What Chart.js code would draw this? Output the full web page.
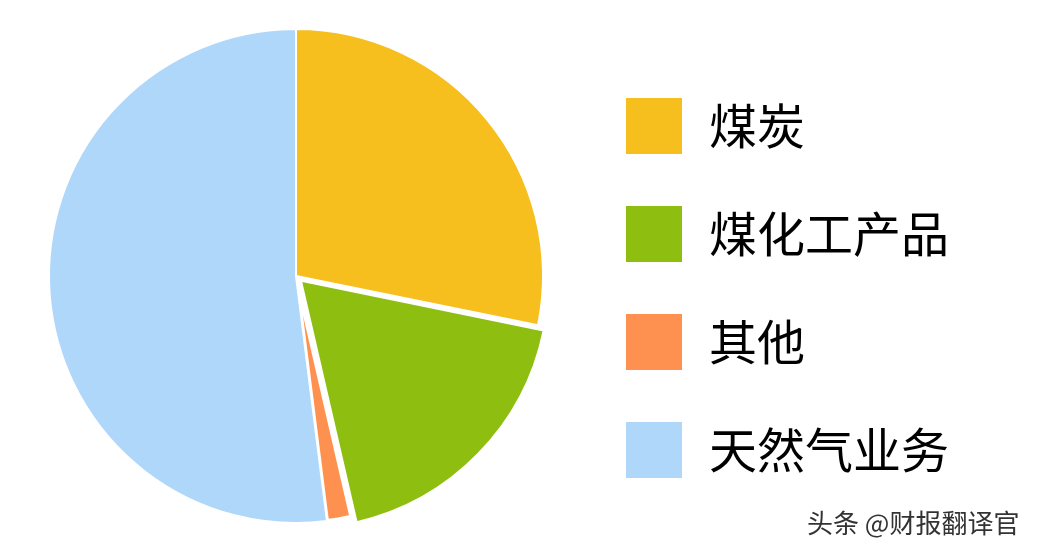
<!DOCTYPE html>
<html>
<head>
<meta charset="utf-8">
<script src="https://cdn.jsdelivr.net/npm/chart.js@4.4.1/dist/chart.umd.min.js"></script>
<style>
  html, body { margin: 0; padding: 0; background: #fff; }
  #wrap { width: 1040px; height: 552px; position: relative; }
</style>
</head>
<body>
<div id="wrap"><canvas id="pieChart"></canvas></div>
<script>
// Datos del gráfico (porcentajes)
const categorias = ['煤炭', '煤化工产品', '其他', '天然气业务'];
const valores = [28.2, 18.2, 1.6, 52.0];
const colores = ['#F6BF1E', '#8EBE0F', '#FF9150', '#AFD7FA'];
const desplazamientos = [0, 28, 0, 0]; // Chart.js v4 mueve offset/4 px
const bordes = [2, 2, 4, 2];
const marcaAgua = '头条 @财报翻译官';

// Ancho fijo de la leyenda para que el pastel quede a la izquierda
const anchoLeyenda = {
    id: 'anchoLeyenda',
    beforeInit(chart) {
        const fitOriginal = chart.legend.fit;
        chart.legend.fit = function () {
            fitOriginal.call(this);
            this.width = 463;
        };
    },
    afterLayout(chart) {
        // bajar un poco la columna de la leyenda
        chart.legend.top += 12;
        chart.legend.bottom += 12;
    }
};

// Texto de la marca de agua abajo a la derecha
const textoMarca = {
    id: 'textoMarca',
    afterDraw(chart) {
        const ctx = chart.ctx;
        ctx.save();
        ctx.font = '26px "Noto Sans CJK SC"';
        ctx.textBaseline = 'middle';
        ctx.textAlign = 'left';
        ctx.shadowColor = 'rgba(255,255,255,0.9)';
        ctx.shadowOffsetX = 1;
        ctx.shadowOffsetY = 1;
        ctx.shadowBlur = 1;
        ctx.fillStyle = '#333';
        ctx.fillText(marcaAgua, 807, 523);
        ctx.restore();
    }
};

const canvas = document.getElementById('pieChart');
new Chart(canvas, {
    type: 'pie',
    data: {
        labels: categorias,
        datasets: [{
            data: valores,
            backgroundColor: colores,
            borderColor: '#ffffff',
            borderWidth: bordes,
            offset: desplazamientos,
            radius: 247
        }]
    },
    options: {
        responsive: true,
        maintainAspectRatio: false,
        devicePixelRatio: 1,
        animation: false,
        layout: { padding: { left: 15, right: 0, top: 0, bottom: 0 } },
        plugins: {
            tooltip: { enabled: false },
            legend: {
                display: true,
                position: 'right',
                align: 'center',
                labels: {
                    boxWidth: 62,
                    boxHeight: 62,
                    padding: 46,
                    color: '#000',
                    font: { family: '"Noto Sans CJK SC"', size: 48 },
                    generateLabels(chart) {
                        // borde blanco ancho: el cuadro visible queda de 56 px
                        return Chart.overrides.pie.plugins.legend.labels.generateLabels(chart)
                            .map(item => Object.assign(item, { lineWidth: 6, strokeStyle: '#ffffff' }));
                    }
                }
            }
        }
    },
    plugins: [anchoLeyenda, textoMarca]
});
</script>
</body>
</html>
